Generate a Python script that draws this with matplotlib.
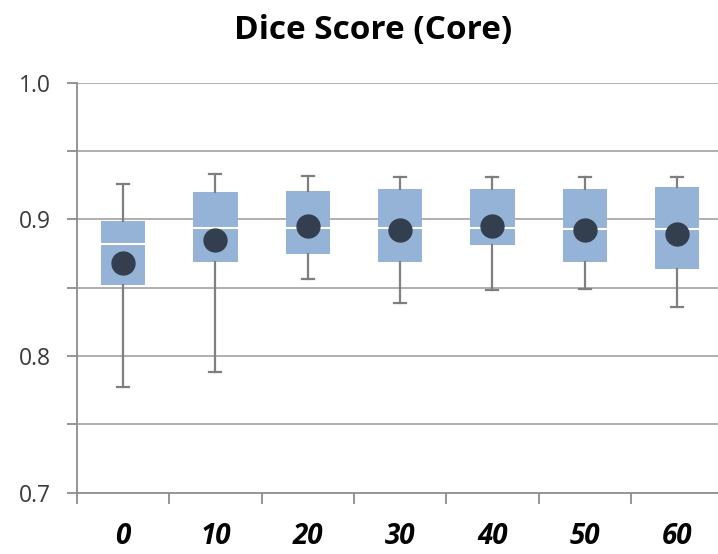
import matplotlib
matplotlib.use("Agg")
import matplotlib.pyplot as plt
import numpy as np

# waarden
labels = ['0', '10', '20', '30', '40', '50', '60']
whislo = [0.777, 0.788, 0.856, 0.839, 0.848, 0.849, 0.836]
q1 = [0.852, 0.869, 0.875, 0.869, 0.881, 0.869, 0.864]
med = [0.882, 0.894, 0.894, 0.894, 0.894, 0.893, 0.893]
q3 = [0.899, 0.920, 0.921, 0.922, 0.922, 0.922, 0.924]
whishi = [0.926, 0.933, 0.932, 0.931, 0.931, 0.931, 0.931]
means = [0.868, 0.885, 0.895, 0.892, 0.895, 0.892, 0.889]

stats = []
for i in range(len(labels)):
    stats.append({'label': labels[i], 'whislo': whislo[i], 'q1': q1[i], 'med': med[i],
                  'q3': q3[i], 'whishi': whishi[i], 'mean': means[i], 'fliers': []})

fig = plt.figure(figsize=(7.18, 5.54), dpi=100)
ax = fig.add_axes([0.1072, 0.1107, 0.9, 0.7400])

# rasterlijnen
for y in [0.75, 0.8, 0.85, 0.9, 0.95, 1.0]:
    ax.axhline(y, color='#a9a9a9', lw=1.3, zorder=0)

pos = np.arange(len(labels))
ax.bxp(stats, positions=pos, widths=0.48, capwidths=0.13, showmeans=True, showfliers=False,
       patch_artist=True,
       boxprops=dict(facecolor='#95b3d7', edgecolor='#95b3d7', lw=0),
       medianprops=dict(color='white', lw=1.5),
       whiskerprops=dict(color='#7f7f7f', lw=1.6),
       capprops=dict(color='#7f7f7f', lw=1.6),
       meanprops=dict(marker='o', markerfacecolor='#333f4f', markeredgecolor='#333f4f', markersize=16.5),
       zorder=3)

ax.set_xlim(-0.5, len(labels) - 0.5)
ax.set_ylim(0.7, 1.0)

for s in ['top', 'right']:
    ax.spines[s].set_visible(False)
for s in ['left', 'bottom']:
    ax.spines[s].set_color('#8c8c8c')
    ax.spines[s].set_linewidth(1.3)

ax.set_yticks([0.7, 0.8, 0.9, 1.0])
ax.set_yticklabels(['0.7', '0.8', '0.9', '1.0'], fontsize=16.5, color='#3a3a3a', family='Open Sans')
ax.set_yticks([0.75, 0.85, 0.95], minor=True)
ax.tick_params(axis='y', which='both', length=7, color='#8c8c8c', width=1.3, pad=12)

ax.set_xticks(pos)
ax.set_xticklabels(labels, fontsize=20, fontweight='bold', fontstyle='italic', family='Open Sans')
ax.set_xticks(np.arange(-0.5, len(labels), 1.0), minor=True)
ax.tick_params(axis='x', which='major', length=0, pad=21)
ax.tick_params(axis='x', which='minor', length=8, color='#8c8c8c', width=1.3)

fig.text(0.52, 0.945, 'Dice Score (Core)', ha='center', va='center', fontsize=24,
         fontweight='bold', family='Open Sans')

fig.savefig('out.png', dpi=100)
